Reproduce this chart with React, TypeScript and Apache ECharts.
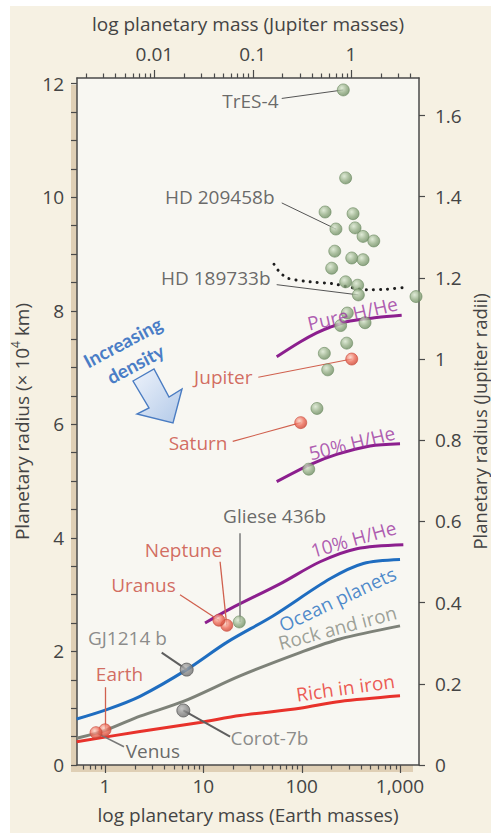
import React, { useEffect, useRef } from 'react';
import * as echarts from 'echarts';

// ---- scales ----
const EARTHS_PER_JUPITER_MASS = 317.8;
const KM4_PER_JUPITER_RADIUS = 7.1492;
const MASS_MIN = 0.519;
const MASS_MAX = 1560;
const RADIUS_MAX = 12.1;

// mass axes are drawn on decades (log10 of the mass)
const lg = (v: number) => Math.log10(v);

const earthMassDecades = [0, 1, 2, 3];
const jupiterMassDecades = [-2, -1, 0];
const leftTicks = [0, 2, 4, 6, 8, 10, 12];
const rightTicks = [0, 0.2, 0.4, 0.6, 0.8, 1, 1.2, 1.4, 1.6];

// ---- transiting giant exoplanets: mass (Earth masses), radius (10^4 km) ----
const exoNames = ['TrES-4', '', '', '', 'HD 209458b', '', '', '', '', '', '', '', '', '', 'HD 189733b', '', '', '', '', '', '', '', '', '', 'Gliese 436b'];
const exoMass = [265, 280, 173, 333, 223, 349, 421, 541, 217, 323, 421, 202, 280, 371, 377, 1455, 291, 249, 441, 287, 170, 184, 143, 118, 23.2];
const exoRadius = [11.89, 10.34, 9.74, 9.71, 9.44, 9.46, 9.31, 9.23, 9.05, 8.93, 8.9, 8.75, 8.51, 8.45, 8.28, 8.25, 7.96, 7.74, 7.79, 7.43, 7.25, 6.96, 6.28, 5.21, 2.52];

// ---- solar-system planets ----
const solarNames = ['Jupiter', 'Saturn', 'Neptune', 'Uranus', 'Earth', 'Venus'];
const solarMass = [323, 97.8, 17.3, 14.4, 1.0, 0.81];
const solarRadius = [7.15, 6.03, 2.46, 2.55, 0.62, 0.57];

// ---- small rocky exoplanets ----
const rockyNames = ['GJ1214 b', 'Corot-7b'];
const rockyMass = [6.77, 6.26];
const rockyRadius = [1.68, 0.96];

// ---- model mass-radius curves: [mass, radius] ----
const pureHHe = [[55.7, 7.19], [96.2, 7.45], [142, 7.61], [194, 7.71], [310, 7.82], [579, 7.88], [1040, 7.92]];
const halfHHe = [[55.7, 4.99], [122, 5.29], [227, 5.47], [495, 5.62], [1000, 5.66]];
const tenthHHe = [[10.4, 2.5], [18.7, 2.75], [60.2, 3.19], [154, 3.58], [363, 3.81], [1081, 3.88]];
const oceanPlanets = [[0.515, 0.81], [1.04, 0.975], [2.27, 1.21], [6.78, 1.68], [17.3, 2.16], [51.5, 2.63], [194, 3.28], [424, 3.55], [1000, 3.62]];
const rockAndIron = [[0.515, 0.47], [1.04, 0.62], [2.27, 0.86], [6.26, 1.12], [23.6, 1.57], [96.2, 1.98], [245, 2.22], [1000, 2.45]];
const richInIron = [[0.515, 0.41], [2.27, 0.59], [9.25, 0.75], [23.6, 0.87], [96.2, 1.0], [245, 1.12], [1000, 1.22]];
const hd189733Model = [[52.3, 8.82], [60.2, 8.67], [73.2, 8.57], [122, 8.51], [202, 8.48], [459, 8.37], [733, 8.38], [1216, 8.42]];

// ---- styling ----
const FONT = '"Open Sans", "DejaVu Sans", sans-serif';
const INK = '#444444';
const AXIS = '#4a4a4a';
const RED_TEXT = '#c8483a';
const RED_LEADER = '#d0604e';
const SOFT_GRAY = '#6f6f6f';
const PURPLE = '#8c1f8e';
const PURPLE_TEXT = '#9b34a0';
const BLUE = '#1f6dc0';
const GRAY_LINE = '#7e8279';
const RED_LINE = '#e8322b';

const plot = { left: 77, top: 78, right: 419, bottom: 765 };

type Callout = {
  name: string;
  text: number[];
  align: 'left' | 'right' | 'center';
  from: number[];
  color: string;
  line: string;
  width: number;
};

// label anchors and leader-line starts, in data units (mass, radius)
const callouts: Callout[] = [
  { name: 'TrES-4', text: [58.8, 11.68], align: 'right', from: [62.7, 11.74], color: INK, line: '#555', width: 1 },
  { name: 'HD 209458b', text: [53.6, 10.0], align: 'right', from: [62.7, 9.9], color: INK, line: '#555', width: 1 },
  { name: 'HD 189733b', text: [48.8, 8.56], align: 'right', from: [55.7, 8.46], color: INK, line: '#555', width: 1 },
  { name: 'Jupiter', text: [32.0, 6.83], align: 'right', from: [36.2, 6.83], color: RED_TEXT, line: RED_LEADER, width: 1.1 },
  { name: 'Saturn', text: [17.8, 5.67], align: 'right', from: [19.9, 5.7], color: RED_TEXT, line: RED_LEADER, width: 1.1 },
  { name: 'Neptune', text: [6.36, 3.78], align: 'center', from: [14.8, 3.58], color: RED_TEXT, line: RED_LEADER, width: 1.3 },
  { name: 'Uranus', text: [2.49, 3.16], align: 'center', from: [5.79, 3.0], color: RED_TEXT, line: RED_LEADER, width: 1.3 },
  { name: 'Gliese 436b', text: [53.6, 4.38], align: 'center', from: [23.2, 4.08], color: INK, line: '#7a7a7a', width: 1.5 },
  { name: 'GJ1214 b', text: [1.71, 2.22], align: 'center', from: [3.77, 1.98], color: SOFT_GRAY, line: '#5f5f5f', width: 2 },
  { name: 'Earth', text: [1.42, 1.6], align: 'center', from: [1.0, 1.37], color: RED_TEXT, line: RED_LEADER, width: 1.3 },
  { name: 'Venus', text: [1.64, 0.23], align: 'left', from: [1.56, 0.32], color: INK, line: '#777', width: 1.6 },
  { name: 'Corot-7b', text: [19.1, 0.46], align: 'left', from: [18.7, 0.5], color: SOFT_GRAY, line: '#5f5f5f', width: 2 },
];

const curveLabels = [
  { text: 'Pure H/He', at: [333, 7.94], rotate: 13, color: PURPLE_TEXT },
  { text: '50% H/He', at: [329, 5.66], rotate: 14, color: PURPLE_TEXT },
  { text: '10% H/He', at: [341, 3.97], rotate: 16, color: PURPLE_TEXT },
  { text: 'Ocean planets', at: [234, 2.91], rotate: 25, color: BLUE },
  { text: 'Rock and iron', at: [234, 2.41], rotate: 15, color: '#858a80' },
  { text: 'Rich in iron', at: [282, 1.35], rotate: 8, color: RED_LINE },
];

const toPlot = (p: number[]) => [lg(p[0]), p[1]];

function sphere(light: string, mid: string, dark: string) {
  return {
    type: 'radial',
    x: 0.38,
    y: 0.35,
    r: 0.7,
    colorStops: [
      { offset: 0, color: light },
      { offset: 0.55, color: mid },
      { offset: 1, color: dark },
    ],
  };
}

// log-axis tick marks (1..9 per decade) inside [min, max], as decades
function logTickMarks(min: number, max: number) {
  const out: number[][] = [];
  for (let d = -4; d <= 4; d++) {
    for (let k = 1; k <= 9; k++) {
      const v = k * Math.pow(10, d);
      if (v >= min * 0.9999 && v <= max) out.push([lg(v), 0, k === 1 ? 8 : 4.5]);
    }
  }
  return out;
}

function decadeLabel(v: number) {
  const p = Math.round(v);
  if (Math.abs(v - p) > 1e-6) return '';
  return p >= 0 ? Math.pow(10, p).toLocaleString('en-US') : Math.pow(10, p).toFixed(-p);
}

function findPlanet(name: string): number[] {
  let i = exoNames.indexOf(name);
  if (i >= 0) return [exoMass[i], exoRadius[i]];
  i = solarNames.indexOf(name);
  if (i >= 0) return [solarMass[i], solarRadius[i]];
  i = rockyNames.indexOf(name);
  return [rockyMass[i], rockyRadius[i]];
}

function tickSeries(xAxisIndex: number, side: 'top' | 'bottom', data: number[][]) {
  return {
    type: 'custom',
    xAxisIndex,
    yAxisIndex: 0,
    silent: true,
    clip: false,
    z: 8,
    encode: { x: 0, y: 1 },
    data,
    renderItem: (params: any, api: any) => {
      const cs = params.coordSys;
      const x = Math.round(api.coord([api.value(0), 0])[0]) + 0.5;
      const len = api.value(2);
      const y0 = side === 'bottom' ? cs.y + cs.height : cs.y;
      const y1 = side === 'bottom' ? y0 + len : y0 - len;
      return {
        type: 'line',
        shape: { x1: x, y1: y0, x2: x, y2: y1 },
        style: { stroke: AXIS, lineWidth: 1.2 },
      };
    },
  };
}

function buildOption() {
  const tickText = { color: INK, fontSize: 19, fontFamily: FONT };
  const nameText = { color: INK, fontSize: 19, fontFamily: FONT };
  const axisLine = { show: true, onZero: false, lineStyle: { color: AXIS, width: 1.5 } };
  const tickLine = { color: AXIS, width: 1.2 };

  const curve = (data: number[][], color: string, width = 3) => ({
    type: 'line',
    data: data.map(toPlot),
    smooth: 0.3,
    symbol: 'none',
    silent: true,
    z: 3,
    lineStyle: { color, width },
  });

  const massAxis = (position: 'top' | 'bottom', min: number, max: number, decades: number[], margin: number, name: string, nameGap: number) => ({
    type: 'value',
    position,
    min: lg(min),
    max: lg(max),
    axisLine,
    axisTick: { show: false },
    minorTick: { show: false },
    splitLine: { show: false },
    axisLabel: { ...tickText, margin, customValues: decades, formatter: decadeLabel },
    name,
    nameLocation: 'middle',
    nameGap,
    nameTextStyle: nameText,
  });

  return {
    animation: false,
    backgroundColor: '#ffffff',
    grid: {
      left: plot.left,
      top: plot.top,
      right: 491 - plot.right,
      bottom: 833 - plot.bottom,
      outerBoundsMode: 'none',
      containLabel: false,
    },
    graphic: [
      { type: 'rect', z: -10, z2: 1, silent: true, shape: { x: 10, y: 6, width: 481, height: 827 }, style: { fill: '#f6f1e3' } },
      { type: 'rect', z: -10, z2: 2, silent: true, shape: { x: plot.left - 6, y: plot.top + 7, width: plot.right - plot.left, height: plot.bottom - plot.top }, style: { fill: '#dfcfb5' } },
      { type: 'rect', z: -10, z2: 3, silent: true, shape: { x: plot.left, y: plot.top, width: plot.right - plot.left, height: plot.bottom - plot.top }, style: { fill: '#f8f7f2' } },
      {
        // right-hand axis title, reading bottom to top
        type: 'text',
        x: 479,
        y: (plot.top + plot.bottom) / 2,
        rotation: Math.PI / 2,
        z: 10,
        silent: true,
        style: { text: 'Planetary radius (Jupiter radii)', fill: INK, font: '18.5px "Open Sans", "DejaVu Sans", sans-serif', align: 'center', verticalAlign: 'middle' },
      },
      {
        type: 'polygon',
        z: 10,
        silent: true,
        shape: { points: [[133, 381], [154, 369], [169, 397], [182, 389], [173, 423], [137, 414], [149, 408]] },
        style: {
          fill: new echarts.graphic.LinearGradient(0, 0, 1, 1, [
            { offset: 0, color: '#eef3fb' },
            { offset: 1, color: '#b2c9e8' },
          ]),
          stroke: '#4a7cc2',
          lineWidth: 1.4,
        },
      },
      {
        type: 'group',
        x: 128.5,
        y: 353,
        rotation: (28 * Math.PI) / 180,
        z: 10,
        silent: true,
        children: [
          { type: 'text', x: 0, y: -12.5, style: { text: 'Increasing', fill: '#4a7dc6', font: 'bold 19px Lato, "Open Sans", sans-serif', align: 'center', verticalAlign: 'middle' } },
          { type: 'text', x: 1, y: 12.5, style: { text: 'density', fill: '#4a7dc6', font: 'bold 19px Lato, "Open Sans", sans-serif', align: 'center', verticalAlign: 'middle' } },
        ],
      },
    ],
    xAxis: [
      massAxis('bottom', MASS_MIN, MASS_MAX, earthMassDecades, 11, 'log planetary mass (Earth masses)', 40),
      massAxis('top', MASS_MIN / EARTHS_PER_JUPITER_MASS, MASS_MAX / EARTHS_PER_JUPITER_MASS, jupiterMassDecades, 15, 'log planetary mass (Jupiter masses)', 45),
    ],
    yAxis: [
      {
        type: 'value',
        position: 'left',
        min: 0,
        max: RADIUS_MAX,
        interval: 2,
        axisLine,
        axisTick: { show: true, length: 6, customValues: leftTicks, lineStyle: tickLine },
        minorTick: { show: true, splitNumber: 4, length: 6, lineStyle: tickLine },
        splitLine: { show: false },
        minorSplitLine: { show: false },
        axisLabel: {
          ...tickText,
          margin: 13,
          customValues: leftTicks,
          formatter: (v: number) => (v > 12.05 ? '' : String(Math.round(v))),
        },
        name: '{a|Planetary radius (× 10}{s|4}{a| km)}',
        nameLocation: 'middle',
        nameRotate: 90,
        nameGap: 42,
        nameTextStyle: {
          rich: {
            a: { fontSize: 19, fontFamily: FONT, color: INK, lineHeight: 24 },
            s: { fontSize: 12, fontFamily: FONT, color: INK, lineHeight: 14, verticalAlign: 'top' },
          },
        },
      },
      {
        type: 'value',
        position: 'right',
        min: 0,
        max: RADIUS_MAX / KM4_PER_JUPITER_RADIUS,
        interval: 0.2,
        axisLine,
        axisTick: { show: true, length: 6, customValues: rightTicks, lineStyle: tickLine },
        splitLine: { show: false },
        axisLabel: {
          ...tickText,
          margin: 16,
          customValues: rightTicks,
          formatter: (v: number) => (v > 1.65 ? '' : String(Math.round(v * 10) / 10)),
        },
      },
    ],
    series: [
      curve(pureHHe, PURPLE),
      curve(halfHHe, PURPLE),
      curve(tenthHHe, PURPLE),
      curve(oceanPlanets, BLUE),
      curve(rockAndIron, GRAY_LINE),
      curve(richInIron, RED_LINE),
      {
        type: 'line',
        data: hd189733Model.map(toPlot),
        smooth: 0.2,
        symbol: 'none',
        silent: true,
        z: 3,
        lineStyle: { color: '#1e1e1e', width: 3, type: [0.1, 7], cap: 'round' },
      },
      {
        type: 'lines',
        coordinateSystem: 'cartesian2d',
        silent: true,
        z: 4,
        data: callouts.map((c) => ({
          coords: [toPlot(c.from), toPlot(findPlanet(c.name))],
          lineStyle: { color: c.line, width: c.width, opacity: 1, curveness: 0 },
        })),
      },
      {
        type: 'scatter',
        silent: true,
        z: 5,
        symbolSize: 12,
        data: exoMass.map((m, i) => toPlot([m, exoRadius[i]])),
        itemStyle: { color: sphere('#d9e7d0', '#97b089', '#6b8a60'), borderColor: '#6c8a62', borderWidth: 0.8 },
      },
      {
        type: 'scatter',
        silent: true,
        z: 5,
        symbolSize: 12,
        data: solarMass.map((m, i) => toPlot([m, solarRadius[i]])),
        itemStyle: { color: sphere('#fbd3c6', '#ee6b58', '#c9402f'), borderColor: '#c9483a', borderWidth: 0.8 },
      },
      {
        type: 'scatter',
        silent: true,
        z: 5,
        symbolSize: 13,
        data: rockyMass.map((m, i) => toPlot([m, rockyRadius[i]])),
        itemStyle: { color: sphere('#b9b9b9', '#8c8c8c', '#6d6d6d'), borderColor: '#5c5c5c', borderWidth: 1 },
      },
      {
        type: 'scatter',
        silent: true,
        z: 6,
        symbolSize: 1,
        itemStyle: { color: 'transparent' },
        data: callouts.map((c) => ({
          value: toPlot(c.text),
          label: {
            show: true,
            position: [0, 0],
            align: c.align,
            verticalAlign: 'middle',
            formatter: c.name,
            color: c.color,
            fontSize: 19,
            fontFamily: FONT,
          },
        })),
      },
      {
        type: 'scatter',
        silent: true,
        z: 6,
        symbolSize: 1,
        itemStyle: { color: 'transparent' },
        data: curveLabels.map((c) => ({
          value: toPlot(c.at),
          label: {
            show: true,
            position: [0, 0],
            align: 'center',
            verticalAlign: 'middle',
            rotate: c.rotate,
            formatter: c.text,
            color: c.color,
            fontSize: 19,
            fontFamily: FONT,
          },
        })),
      },
      tickSeries(0, 'bottom', logTickMarks(MASS_MIN, MASS_MAX)),
      tickSeries(1, 'top', logTickMarks(MASS_MIN / EARTHS_PER_JUPITER_MASS, MASS_MAX / EARTHS_PER_JUPITER_MASS)),
    ],
  };
}

export default function App() {
  const ref = useRef<HTMLDivElement>(null);
  useEffect(() => {
    if (!ref.current) return;
    const chart = echarts.init(ref.current, null, { renderer: 'svg' });
    chart.setOption(buildOption() as any);
    return () => chart.dispose();
  }, []);
  return <div ref={ref} style={{ position: 'fixed', left: 0, top: 0, width: 491, height: 833 }} />;
}
